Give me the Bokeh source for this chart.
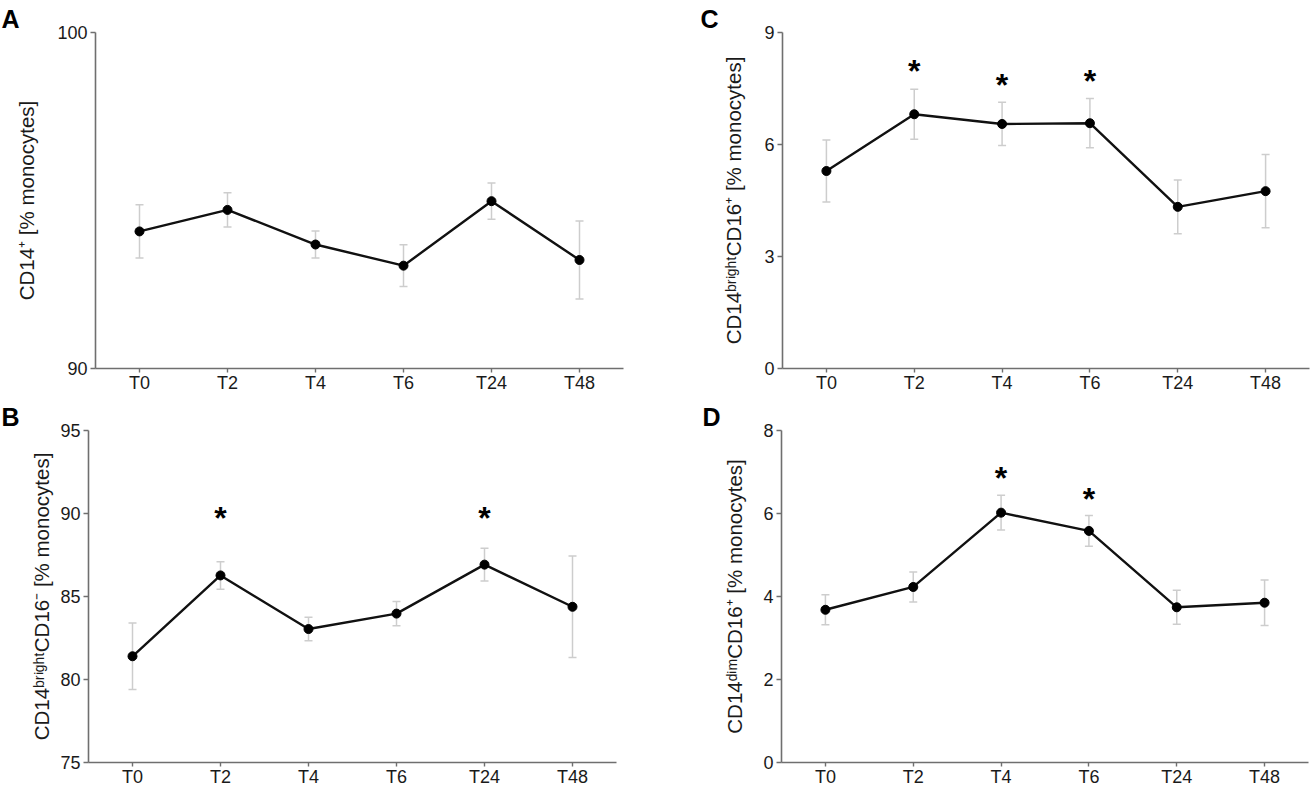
from bokeh.plotting import figure
from bokeh.models import (ColumnDataSource, Range1d, FactorRange, FixedTicker,
                          Whisker, TeeHead)
from bokeh.layouts import column, row
from bokeh.embed import file_html
from bokeh.resources import INLINE
from bokeh.core.properties import value

# ---------------- data ----------------
cats = ["T0", "T2", "T4", "T6", "T24", "T48"]

A_mean = [94.08, 94.72, 93.69, 93.06, 94.98, 93.23]
A_err = [0.79, 0.51, 0.40, 0.62, 0.54, 1.16]
A_ticks = [90, 100]

B_mean = [81.40, 86.27, 83.04, 83.97, 86.92, 84.38]
B_err = [2.00, 0.83, 0.71, 0.73, 0.98, 3.06]
B_ticks = [75, 80, 85, 90, 95]
B_star_x = ["T2", "T24"]
B_star_y = [90.05, 90.05]

C_mean = [5.29, 6.81, 6.55, 6.57, 4.33, 4.75]
C_err = [0.83, 0.67, 0.58, 0.66, 0.72, 0.98]
C_ticks = [0, 3, 6, 9]
C_star_x = ["T2", "T4", "T6"]
C_star_y = [8.10, 7.73, 7.83]

D_mean = [3.68, 4.23, 6.02, 5.58, 3.74, 3.85]
D_err = [0.36, 0.36, 0.42, 0.37, 0.41, 0.55]
D_ticks = [0, 2, 4, 6, 8]
D_star_x = ["T4", "T6"]
D_star_y = [6.97, 6.47]

FONT = "Liberation Sans, Arial, Helvetica, sans-serif"
AXIS_COL = "#6f6f6f"
ERR_COL = "#cdcdcd"


def panel(mean, err, yr, ticks, ylabel, letter, letter_offset, title_standoff,
          star_x, star_y, width, height, mb_left, mb_right, mb_top,
          mb_bottom, label_standoff):
    p = figure(x_range=FactorRange(*cats), y_range=Range1d(*yr),
               width=width, height=height, output_backend="svg",
               toolbar_location=None, min_border_left=mb_left,
               min_border_right=mb_right, min_border_top=mb_top,
               min_border_bottom=mb_bottom, title=letter)
    p.outline_line_color = None
    p.grid.visible = False
    p.background_fill_color = "white"
    p.border_fill_color = "white"

    p.title.align = "left"
    p.title.offset = letter_offset
    p.title.standoff = title_standoff
    p.title.text_font = FONT
    p.title.text_font_style = "bold"
    p.title.text_font_size = "25px"
    p.title.text_line_height = 0.8
    p.title.text_color = "black"

    for ax in (p.xaxis[0], p.yaxis[0]):
        ax.axis_line_color = AXIS_COL
        ax.axis_line_width = 1.6
        ax.major_tick_line_color = AXIS_COL
        ax.major_tick_line_width = 1.4
        ax.minor_tick_line_color = None
        ax.major_tick_in = 0
        ax.major_label_text_font = FONT
        ax.major_label_text_font_size = "18px"
        ax.major_label_text_color = "#1a1a1a"
    p.xaxis.major_tick_out = 4
    p.xaxis.major_label_standoff = 0
    p.yaxis.major_tick_out = 5
    p.yaxis.major_label_standoff = 3
    p.yaxis.ticker = FixedTicker(ticks=ticks)
    p.yaxis.axis_label = ylabel
    p.yaxis.axis_label_text_font = FONT
    p.yaxis.axis_label_text_font_style = "normal"
    p.yaxis.axis_label_text_font_size = "20.5px"
    p.yaxis.axis_label_text_color = "#1a1a1a"
    p.yaxis.axis_label_standoff = label_standoff

    lower = [m - e for m, e in zip(mean, err)]
    upper = [m + e for m, e in zip(mean, err)]
    src = ColumnDataSource(dict(x=cats, y=mean, lower=lower, upper=upper))

    wh = Whisker(base="x", upper="upper", lower="lower", source=src,
                 line_color=ERR_COL, line_width=1.5, level="underlay",
                 upper_head=TeeHead(size=8, line_color=ERR_COL, line_width=1.5),
                 lower_head=TeeHead(size=8, line_color=ERR_COL, line_width=1.5))
    p.add_layout(wh)

    p.line("x", "y", source=src, line_color="#111111", line_width=2.4)
    p.scatter("x", "y", source=src, size=9, fill_color="black",
              line_color="black")

    if star_x:
        ssrc = ColumnDataSource(dict(x=star_x, y=star_y, t=["*"] * len(star_x)))
        p.text("x", "y", text="t", source=ssrc, text_font=value(FONT),
               text_font_style="bold", text_font_size="32px",
               text_align="center", text_baseline="alphabetic",
               y_offset=5, text_color="black")
    return p


pA = panel(A_mean, A_err, (90, 100), A_ticks, "CD14\u207a [% monocytes]",
           "A", -94, 0, None, None,
           width=650, height=400, mb_left=95, mb_right=27, mb_top=32,
           mb_bottom=31, label_standoff=16)

pC = panel(C_mean, C_err, (0, 9), C_ticks,
           "CD14\u1d47\u02b3\u2071\u1d4d\u02b0\u1d57CD16\u207a [% monocytes]",
           "C", -82, 0, C_star_x, C_star_y,
           width=661, height=400, mb_left=132, mb_right=2, mb_top=30,
           mb_bottom=32, label_standoff=16)

pB = panel(B_mean, B_err, (75, 95), B_ticks,
           "CD14\u1d47\u02b3\u2071\u1d4d\u02b0\u1d57CD16\u207b [% monocytes]",
           "B", -87, 0, B_star_x, B_star_y,
           width=650, height=394, mb_left=88, mb_right=34, mb_top=29,
           mb_bottom=27, label_standoff=4)

pD = panel(D_mean, D_err, (0, 8), D_ticks,
           "CD14\u1d48\u2071\u1d50CD16\u207a [% monocytes]",
           "D", -79, 0, D_star_x, D_star_y,
           width=661, height=394, mb_left=131, mb_right=3, mb_top=25,
           mb_bottom=32, label_standoff=14)

layout = column(row(pA, pC), row(pB, pD))

open("out.html", "w").write(file_html(layout, INLINE))
